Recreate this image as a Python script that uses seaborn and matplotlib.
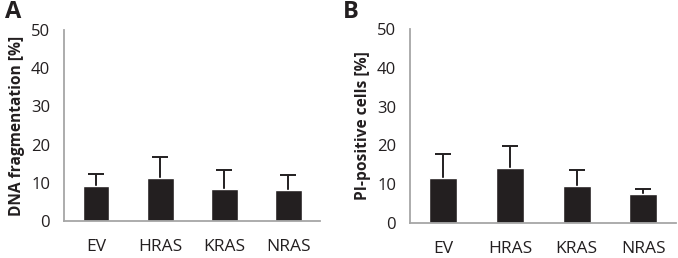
import matplotlib.pyplot as plt
import pandas as pd
import seaborn as sns

groups = ["EV", "HRAS", "KRAS", "NRAS"]
dna_mean = [9.2, 11.3, 8.5, 8.2]
dna_err = [3.0, 5.5, 4.8, 3.8]
pi_mean = [11.6, 14.2, 9.5, 7.4]
pi_err = [6.1, 5.7, 4.2, 1.3]

sns.set_theme(style="white")
plt.rcParams["font.family"] = ["Open Sans", "DejaVu Sans"]

BAR = "#231f20"
AXIS = "#a6a6a6"


def panel(fig, rect, means, errs, ylabel, letter, letter_xy):
    ax = fig.add_axes(rect)
    # error bars behind the bars so only the upper half shows
    ax.errorbar(range(len(groups)), means, yerr=errs, fmt="none", ecolor=BAR,
                elinewidth=1.4, capsize=6, capthick=1.4, zorder=1)
    df = pd.DataFrame({"group": groups, "value": means})
    sns.barplot(ax=ax, data=df, x="group", y="value", color=BAR, width=0.42,
                saturation=1, errorbar=None, zorder=2)
    ax.set_ylim(0, 50)
    ax.set_xlim(-0.5, len(groups) - 0.5)
    ax.set_yticks(range(0, 51, 10))
    ax.set_xticks([i - 0.5 for i in range(len(groups) + 1)], minor=True)
    ax.tick_params(axis="x", which="major", length=0, pad=13, labelsize=12.5, labelcolor=BAR)
    ax.tick_params(axis="x", which="minor", length=7, width=1.2, color=AXIS, direction="out")
    ax.tick_params(axis="y", length=4, width=1.2, color=AXIS, direction="out",
                   labelsize=12, labelcolor=BAR, pad=6)
    for side in ("top", "right"):
        ax.spines[side].set_visible(False)
    for side in ("left", "bottom"):
        ax.spines[side].set_color(AXIS)
        ax.spines[side].set_linewidth(1.3)
    ax.set_xlabel(None)
    ax.set_ylabel(ylabel, fontsize=11.2, fontweight="bold", color=BAR, labelpad=4)
    fig.text(letter_xy[0], letter_xy[1], letter, fontsize=17, fontweight="bold",
             color=BAR, ha="left", va="top")
    return ax


fig = plt.figure(figsize=(6.78, 2.58), dpi=100)
panel(fig, [0.0944, 0.1434, 0.378, 0.7403], dna_mean, dna_err,
      "DNA fragmentation [%]", "A", (0.008, 1.0))
panel(fig, [0.6047, 0.1368, 0.393, 0.7496], pi_mean, pi_err,
      "PI-positive cells [%]", "B", (0.505, 1.0))
fig.savefig("out.png", dpi=100)
